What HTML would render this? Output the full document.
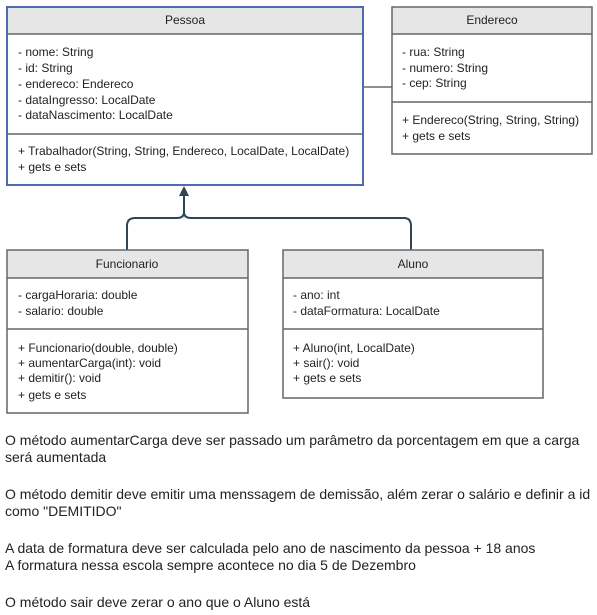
<!DOCTYPE html>
<html><head><meta charset="utf-8"><style>
html,body{margin:0;padding:0;background:#fff;width:597px;height:615px;overflow:hidden}
svg text{font-family:"Liberation Sans",Arial,sans-serif;font-size:12px;fill:#222}
.p{position:absolute;left:5px;font-family:"Liberation Sans",Arial,sans-serif;font-size:14px;color:#222;white-space:nowrap;line-height:17px}
</style></head><body>
<svg width="597" height="420" style="position:absolute;left:0;top:0">
<!-- Pessoa -->
<rect x="7" y="7" width="356" height="27" fill="#e6e6e6"/>
<rect x="7" y="7" width="356" height="178" fill="none" stroke="#4d6bb3" stroke-width="2"/>
<line x1="7" y1="34" x2="363" y2="34" stroke="#666" stroke-width="1.5"/>
<line x1="7" y1="134" x2="363" y2="134" stroke="#666" stroke-width="1.5"/>
<text x="185" y="24" text-anchor="middle">Pessoa</text>
<text x="18" y="56">- nome: String</text>
<text x="18" y="72">- id: String</text>
<text x="18" y="88">- endereco: Endereco</text>
<text x="18" y="104">- dataIngresso: LocalDate</text>
<text x="18" y="119">- dataNascimento: LocalDate</text>
<text x="18" y="155">+ Trabalhador(String, String, Endereco, LocalDate, LocalDate)</text>
<text x="18" y="171">+ gets e sets</text>
<!-- Endereco -->
<line x1="364" y1="87" x2="392" y2="87" stroke="#222" stroke-width="1"/>
<rect x="392" y="7" width="200" height="27" fill="#e6e6e6"/>
<rect x="392" y="7" width="200" height="147" fill="none" stroke="#666" stroke-width="1.5"/>
<line x1="392" y1="34" x2="592" y2="34" stroke="#666" stroke-width="1.5"/>
<line x1="392" y1="102" x2="592" y2="102" stroke="#666" stroke-width="1.5"/>
<text x="492" y="24" text-anchor="middle">Endereco</text>
<text x="402" y="56">-  rua: String</text>
<text x="402" y="72">-  numero: String</text>
<text x="402" y="87">- cep: String</text>
<text x="402" y="124">+ Endereco(String, String, String)</text>
<text x="402" y="140">+ gets e sets</text>
<!-- connector -->
<path d="M127 250 V226 Q127 218 135 218 H177 Q184 218 184 212 V194 M184 212 Q184 218 191 218 H404 Q411 218 411 226 V250" fill="none" stroke="#2f4554" stroke-width="2"/>
<polygon points="184,186 179,196 189,196" fill="#2f4554"/>
<!-- Funcionario -->
<rect x="7" y="250" width="241" height="28" fill="#e6e6e6"/>
<rect x="7" y="250" width="241" height="163" fill="none" stroke="#666" stroke-width="1.5"/>
<line x1="7" y1="278" x2="248" y2="278" stroke="#666" stroke-width="1.5"/>
<line x1="7" y1="329" x2="248" y2="329" stroke="#666" stroke-width="1.5"/>
<text x="127" y="268" text-anchor="middle">Funcionario</text>
<text x="18" y="299">-  cargaHoraria: double</text>
<text x="18" y="315">-  salario: double</text>
<text x="18" y="352">+ Funcionario(double, double)</text>
<text x="18" y="367">+ aumentarCarga(int): void</text>
<text x="18" y="382">+ demitir(): void</text>
<text x="18" y="399">+ gets e sets</text>
<!-- Aluno -->
<rect x="283" y="250" width="260" height="28" fill="#e6e6e6"/>
<rect x="283" y="250" width="260" height="148" fill="none" stroke="#666" stroke-width="1.5"/>
<line x1="283" y1="278" x2="543" y2="278" stroke="#666" stroke-width="1.5"/>
<line x1="283" y1="329" x2="543" y2="329" stroke="#666" stroke-width="1.5"/>
<text x="413" y="268" text-anchor="middle">Aluno</text>
<text x="293" y="299">-  ano: int</text>
<text x="293" y="315"> - dataFormatura: LocalDate</text>
<text x="293" y="352">+ Aluno(int, LocalDate)</text>
<text x="293" y="367">+ sair(): void</text>
<text x="293" y="382">+ gets e sets</text>
</svg>
<div class="p" style="top:432px">O método aumentarCarga deve ser passado um parâmetro da porcentagem em que a carga<br>será aumentada</div>
<div class="p" style="top:486px">O método demitir deve emitir uma menssagem de demissão, além zerar o salário e definir a id<br>como "DEMITIDO"</div>
<div class="p" style="top:540px">A data de formatura deve ser calculada pelo ano de nascimento da pessoa + 18 anos<br>A formatura nessa escola sempre acontece no dia 5 de Dezembro</div>
<div class="p" style="top:594px">O método sair deve zerar o ano que o Aluno está</div>
</body></html>
